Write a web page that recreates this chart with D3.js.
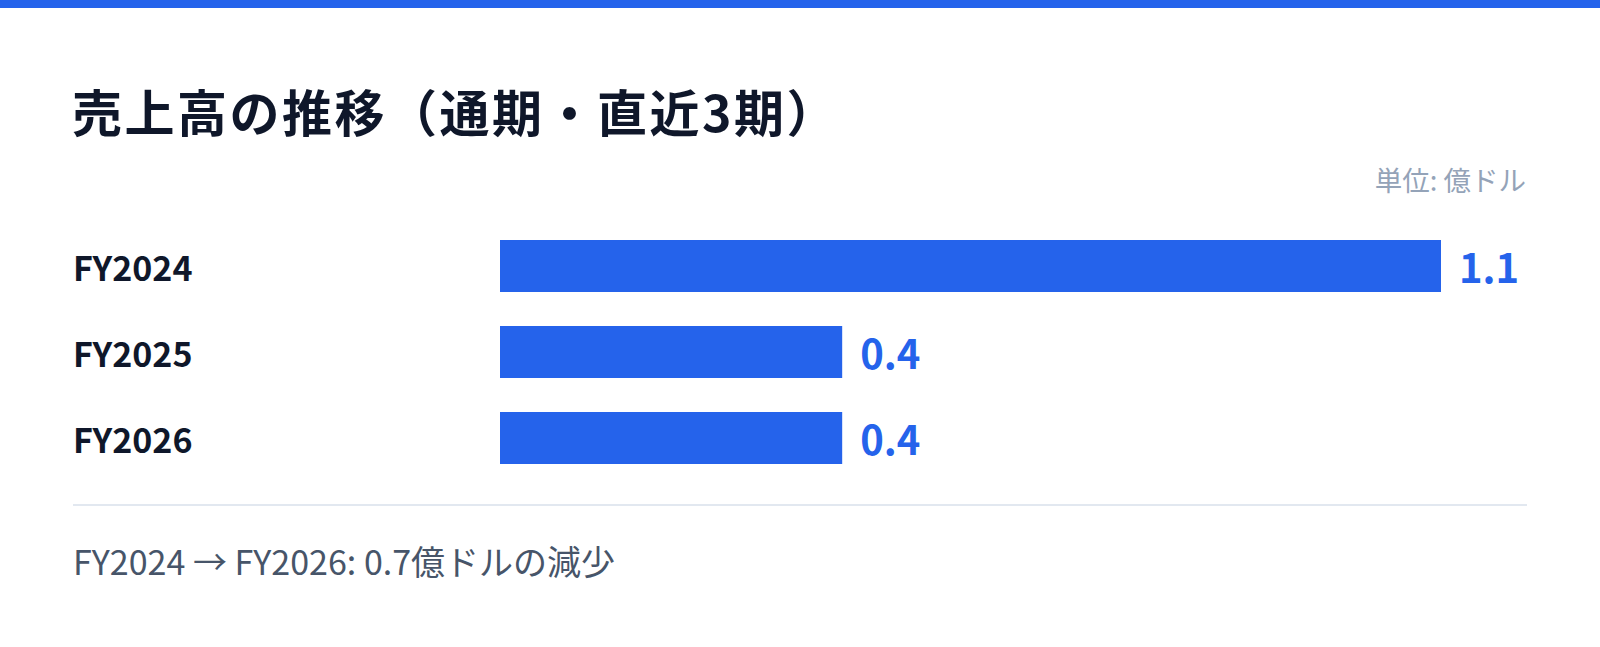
<!DOCTYPE html>
<html lang="ja">
<head>
<meta charset="utf-8">
<script src="https://cdn.jsdelivr.net/npm/d3@7"></script>
<style>
  html, body { margin: 0; padding: 0; background: #ffffff; }
  #chart { width: 1600px; height: 647px; position: relative; }
  svg text { font-family: "Noto Sans CJK JP", "Noto Sans", sans-serif; }
</style>
</head>
<body>
<div id="chart"></div>
<script>
// chart values
const years = ["FY2024", "FY2025", "FY2026"];
const sales = [1.1, 0.4, 0.4];
const valueLabels = ["1.1", "0.4", "0.4"];
const titleText = "売上高の推移（通期・直近3期）";
const unitText = "単位: 億ドル";
const footerText = "FY2024 → FY2026: 0.7億ドルの減少";

const width = 1600;
const height = 647;
const blue = "#2563eb";

const svg = d3.select("#chart").append("svg")
  .attr("width", width)
  .attr("height", height);

// top accent strip
svg.append("rect")
  .attr("x", 0)
  .attr("y", 0)
  .attr("width", width)
  .attr("height", 8)
  .attr("fill", blue);

svg.append("text")
  .attr("x", 72)
  .attr("y", 132)
  .attr("fill", "#0f172a")
  .attr("font-size", 50)
  .attr("font-weight", 700)
  .style("letter-spacing", "2.5px")
  .text(titleText);

svg.append("text")
  .attr("x", 1526)
  .attr("y", 191)
  .attr("text-anchor", "end")
  .attr("fill", "#94a3b8")
  .attr("font-size", 27.5)
  .text(unitText);

const x = d3.scaleLinear()
  .domain([0, d3.max(sales)])
  .range([500, 1441]);

const y = d3.scaleBand()
  .domain(years)
  .range([240, 464])
  .paddingInner(34 / 86)
  .paddingOuter(0);

const rows = svg.append("g")
  .selectAll("g")
  .data(years)
  .join("g");

rows.append("text")
  .attr("x", 73)
  .attr("y", d => y(d) + y.bandwidth() / 2 + 15)
  .attr("fill", "#0f172a")
  .attr("font-size", 34)
  .attr("font-weight", 700)
  .text(d => d);

rows.append("rect")
  .attr("x", x(0))
  .attr("y", d => y(d))
  .attr("width", (d, i) => x(sales[i]) - x(0))
  .attr("height", y.bandwidth())
  .attr("fill", blue);

rows.append("text")
  .attr("x", (d, i) => x(sales[i]) + 18)
  .attr("y", d => y(d) + y.bandwidth() / 2 + 17)
  .attr("fill", blue)
  .attr("font-size", 40)
  .attr("font-weight", 700)
  .text((d, i) => valueLabels[i]);

// divider
svg.append("line")
  .attr("x1", 73)
  .attr("x2", 1527)
  .attr("y1", 505)
  .attr("y2", 505)
  .attr("stroke", "#e2e8f0")
  .attr("stroke-width", 2);

svg.append("text")
  .attr("x", 73)
  .attr("y", 575)
  .attr("fill", "#475569")
  .attr("font-size", 34)
  .text(footerText);
</script>
</body>
</html>
